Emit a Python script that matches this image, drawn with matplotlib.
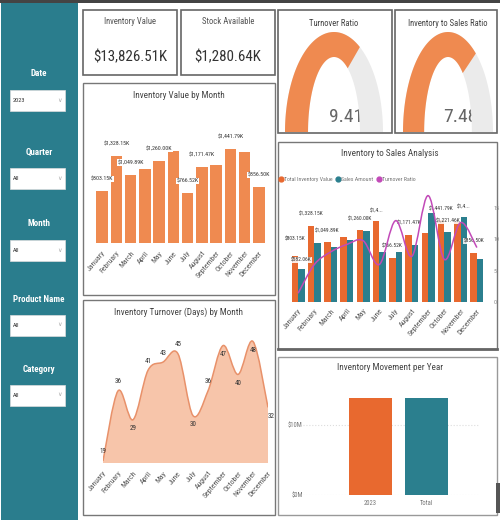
import matplotlib
matplotlib.use('Agg')
import matplotlib.pyplot as plt
from matplotlib.patches import Rectangle, Polygon, PathPatch
from matplotlib.path import Path
from matplotlib.lines import Line2D
from matplotlib import font_manager
import numpy as np

# ---------------------------------------------------------
# data
# ---------------------------------------------------------
months = ['January', 'February', 'March', 'April', 'May', 'June', 'July',
          'August', 'September', 'October', 'November', 'December']
inventory_value_k = [803.15, 1328.15, 1049.89, 1140.0, 1260.00, 1410.0,
                     766.52, 1171.47, 1200.0, 1441.79, 1395.0, 856.50]
sales_amount_k = [582.06, 1030.0, 960.0, 1080.0, 1250.0, 880.0,
                  870.0, 1000.0, 1560.0, 1221.46, 1480.0, 760.0]
turnover_ratio = [1.4, 6.0, 8.0, 9.2, 9.8, 6.0, 13.0, 7.3, 17.0, 6.8, 12.7, 8.7]
turnover_days = [19, 36, 29, 41, 43, 45, 30, 36, 47, 40, 48, 32]

card_titles = ['Inventory Value', 'Stock Available']
card_values = ['$13,826.51K', '$1,280.64K']
gauge_titles = ['Turnover Ratio', 'Inventory to Sales Ratio']
gauge_values = [9.41, 7.48]
gauge_max = [13.9, 10.5]
movement_labels = ['2023', 'Total']
movement_values = [13826.51e3, 13826.51e3]
slicer_names = ['Date', 'Quarter', 'Month', 'Product Name', 'Category']
slicer_values = ['2023', 'All', 'All', 'All', 'All']

# colours
TEAL = '#2a7d8d'
ORANGE = '#ef8a50'
ORANGE2 = '#e8692f'
BAR_TEAL = '#2b7f8e'
PURPLE = '#c24ab8'
GREY_TXT = '#555555'

# the screenshot is squeezed sideways, so take the narrowest family around
names = {f.name for f in font_manager.fontManager.ttflist}
for cand in ['Roboto Condensed', 'Liberation Sans Narrow', 'Roboto', 'Liberation Sans']:
    if cand in names:
        FONT = cand
        break
else:
    FONT = 'DejaVu Sans'
plt.rcParams['font.family'] = [FONT, 'DejaVu Sans']

W, H = 500, 520
fig = plt.figure(figsize=(5, 5.2), dpi=100)


def box(x0, y0, x1, y1):
    # pixel box (top-left origin) -> figure fraction
    return [x0 / W, 1 - y1 / H, (x1 - x0) / W, (y1 - y0) / H]


bg = fig.add_axes([0, 0, 1, 1])
bg.set_xlim(0, W)
bg.set_ylim(H, 0)
bg.axis('off')


def txt(x, y, s, size, color='#333333', ha='center', va='center', **kw):
    bg.text(x, y, s, fontsize=size, color=color, ha=ha, va=va, **kw)


def panel(x0, y0, x1, y1, ec='#8a8a8a', lw=1.0):
    bg.add_patch(Rectangle((x0, y0), x1 - x0, y1 - y0, fc='white', ec=ec, lw=lw))


def smooth_path(xs, ys, base=None):
    # catmull-rom style cubic segments through the data points
    pts = list(zip(xs, ys))
    n = len(pts)
    verts = [pts[0]]
    codes = [Path.MOVETO]
    for i in range(n - 1):
        p0 = pts[i - 1] if i > 0 else pts[i]
        p1, p2 = pts[i], pts[i + 1]
        p3 = pts[i + 2] if i + 2 < n else pts[i + 1]
        c1 = (p1[0] + (p2[0] - p0[0]) / 6, p1[1] + (p2[1] - p0[1]) / 6)
        c2 = (p2[0] - (p3[0] - p1[0]) / 6, p2[1] - (p3[1] - p1[1]) / 6)
        verts += [c1, c2, p2]
        codes += [Path.CURVE4] * 3
    if base is not None:
        verts += [(xs[-1], base), (xs[0], base), pts[0]]
        codes += [Path.LINETO, Path.LINETO, Path.CLOSEPOLY]
    return Path(verts, codes)


def month_ticks(ax, pad):
    ax.set_yticks([])
    ax.set_xticks(x)
    ax.set_xticklabels(months, rotation=50, ha='right', va='top',
                       rotation_mode='anchor', fontsize=5.6, color=GREY_TXT)
    ax.tick_params(axis='x', length=0, pad=pad)
    for s in ax.spines.values():
        s.set_visible(False)
    ax.patch.set_alpha(0)


# ---------------------------------------------------------
# frame, sidebar and slicers
# ---------------------------------------------------------
bg.add_patch(Rectangle((0, 0), W, 3, fc='#444444', ec='none'))
bg.add_patch(Rectangle((1, 3), 77, H - 3, fc=TEAL, ec='none'))

label_y = [73, 152, 223, 299, 370]
box_y = [90, 168, 240, 315, 385]
for name, val, ly, by in zip(slicer_names, slicer_values, label_y, box_y):
    txt(39, ly, name, 6.5, color='white', fontweight='bold')
    bg.add_patch(Rectangle((10, by), 55, 21, fc='white', ec='#dddddd', lw=0.5))
    txt(13, by + 10.5, val, 4.5, ha='left')
    txt(59, by + 10, '\u2228', 4.5, color='#aaaaaa')

# KPI cards
for (x0, x1), t, v in zip([(83, 177), (181, 275)], card_titles, card_values):
    panel(x0, 10, x1, 75, ec='#666666', lw=1.2)
    txt((x0 + x1) / 2, 22, t, 6.2, color=GREY_TXT)
    txt((x0 + x1) / 2, 57, v, 10.8, color='#333333')

# chart panels
panel(83, 83, 275, 295, ec='#777777')
panel(83, 300, 275, 515, ec='#777777')
panel(278, 10, 392, 133, ec='#666666', lw=1.2)
panel(395, 10, 497, 133, ec='#666666', lw=1.2)
panel(278, 142, 497, 349, ec='#777777')
bg.plot([278, 497], [349, 349], color='#666666', lw=2)
panel(278, 357, 497, 515, ec='#999999')
bg.add_patch(Rectangle((496, 483), 4, 30, fc='#555555', ec='none'))

txt(179, 95, 'Inventory Value by Month', 6.6, color='#444444')
txt(179, 312, 'Inventory Turnover (Days) by Month', 6.6, color='#444444')
txt(390, 154, 'Inventory to Sales Analysis', 6.6, color='#444444')
txt(390, 368, 'Inventory Movement per Year', 6.6, color='#444444')

# ---------------------------------------------------------
# gauges
# ---------------------------------------------------------
gauge_boxes = [(285, 383), (403, 493)]
for (x0, x1), t, v, vmax in zip(gauge_boxes, gauge_titles, gauge_values, gauge_max):
    cx = (x0 + x1) / 2
    txt(cx, 23, t, 6.2, color='#444444')
    g = fig.add_axes(box(x0, 32, x1, 132))
    g.set_xlim(-1, 1)
    g.set_ylim(0, 1)
    g.axis('off')
    kx, ky = 0.53, 0.75
    for a0, a1, col in [(0, np.pi, '#ebebeb'), (np.pi * (1 - v / vmax), np.pi, ORANGE)]:
        t_ = np.linspace(a0, a1, 80)
        outer = np.column_stack([np.cos(t_), np.sin(t_)])
        inner = np.column_stack([kx * np.cos(t_[::-1]), ky * np.sin(t_[::-1])])
        g.add_patch(Polygon(np.vstack([outer, inner]), closed=True, fc=col, ec='none'))
    txt(cx + 12, 117, f'{v:.2f}', 14, color='#666666')

# ---------------------------------------------------------
# Inventory Value by Month
# ---------------------------------------------------------
x = np.arange(len(months))
ax1 = fig.add_axes(box(95, 110, 266, 243))
ax1.bar(x, inventory_value_k, width=0.8, color=ORANGE)
ax1.set_xlim(-0.5, 11.5)
ax1.set_ylim(0, 2040)
month_ticks(ax1, 5)
for i in [0, 1, 2, 4, 6, 7, 9, 11]:
    ax1.annotate(f'${inventory_value_k[i]:,.2f}K', (x[i], inventory_value_k[i]),
                 xytext=(0, 12), textcoords='offset pixels', ha='center', va='center',
                 fontsize=4.2, color='#333333',
                 bbox=dict(boxstyle='square,pad=0.1', fc='white', ec='none'))

# ---------------------------------------------------------
# Inventory Turnover (Days) by Month
# ---------------------------------------------------------
ax2 = fig.add_axes(box(103, 325, 268, 463))
ax2.set_xlim(0, 11)
ax2.set_ylim(18.5, 52)
ax2.add_patch(PathPatch(smooth_path(x, turnover_days, base=18.5), fc='#f7c5aa', ec='none'))
ax2.add_patch(PathPatch(smooth_path(x, turnover_days), fc='none', ec='#e8916a', lw=1.1))
month_ticks(ax2, 5)
side = [1, 1, -1, 1, 1, 1, -1, 1, -1, -1, -1, -1]
for i, d in enumerate(turnover_days):
    dx = 3 if i == 11 else 0
    ax2.annotate(str(d), (x[i], d), xytext=(dx, 9 * side[i]), textcoords='offset pixels',
                 ha='center', va='center', fontsize=5, color='#333333')

# ---------------------------------------------------------
# Inventory to Sales Analysis
# ---------------------------------------------------------
ax3 = fig.add_axes(box(290, 190, 485, 302))
ax3.bar(x - 0.2, inventory_value_k, width=0.4, color=ORANGE2)
ax3.bar(x + 0.2, sales_amount_k, width=0.4, color=BAR_TEAL)
ax3.set_xlim(-0.5, 11.5)
ax3.set_ylim(0, 1960)
month_ticks(ax3, 4)

ax3b = ax3.twinx()
ax3b.set_ylim(0, 17.9)
ax3b.add_patch(PathPatch(smooth_path(x, turnover_ratio), fc='none', ec=PURPLE, lw=1.1))
ax3b.set_yticks([0, 5, 10, 15])
ax3b.tick_params(axis='y', length=0, labelsize=4.3, labelcolor='#888888', pad=6)
for s in ax3b.spines.values():
    s.set_visible(False)

# (month, series, pixels above bar, truncate)
sales_label_spec = [(0, 0, 17, False), (0, 1, 9, False), (1, 0, 12, False),
                    (2, 0, 11, False), (4, 0, 11, False), (5, 0, 10, True),
                    (6, 0, 12, False), (7, 0, 12, False), (9, 0, 11, False),
                    (9, 1, 11, False), (10, 1, 10, True), (11, 0, 12, False)]
series = [inventory_value_k, sales_amount_k]
for m, sidx, off, trunc in sales_label_spec:
    v = series[sidx][m]
    lab = f'${v:,.2f}K'
    if trunc:
        lab = lab[:4] + '...'
    ax3.annotate(lab, (x[m] + (0.2 if sidx else -0.2), v), xytext=(0, off),
                 textcoords='offset pixels', ha='center', va='center', fontsize=4,
                 color='#333333', zorder=5,
                 bbox=dict(boxstyle='square,pad=0.1', fc='white', ec='none', alpha=0.85))

handles = [Line2D([], [], marker='o', ls='none', color=c, markersize=3.5)
           for c in (ORANGE2, BAR_TEAL, PURPLE)]
ax3.legend(handles, ['Total Inventory Value', 'Sales Amount', 'Turnover Ratio'],
           ncol=3, loc='lower left', bbox_to_anchor=(-0.07, 1.05), frameon=False,
           fontsize=4.2, labelcolor='#777777', handletextpad=0.1, columnspacing=0.6,
           borderaxespad=0, handlelength=0.8)

# ---------------------------------------------------------
# Inventory Movement per Year
# ---------------------------------------------------------
ax4 = fig.add_axes(box(300, 380, 480, 495))
xm = np.arange(len(movement_labels))
ax4.bar(xm, movement_values, width=0.77, color=[ORANGE2, BAR_TEAL], zorder=2)
ax4.set_xlim(-1.27, 1.97)
ax4.set_ylim(0, 16.4e6)
ax4.set_yticks([0, 10e6])
ax4.set_yticklabels(['$0M', '$10M'])
ax4.yaxis.grid(True, color='#dddddd', ls=':', lw=0.8, zorder=0)
ax4.set_xticks(xm)
ax4.set_xticklabels(movement_labels)
ax4.tick_params(length=0, labelsize=4.8, labelcolor='#777777')
ax4.tick_params(axis='y', pad=-2)
for s in ax4.spines.values():
    s.set_visible(False)
ax4.patch.set_alpha(0)

fig.savefig('out.png', dpi=100)
